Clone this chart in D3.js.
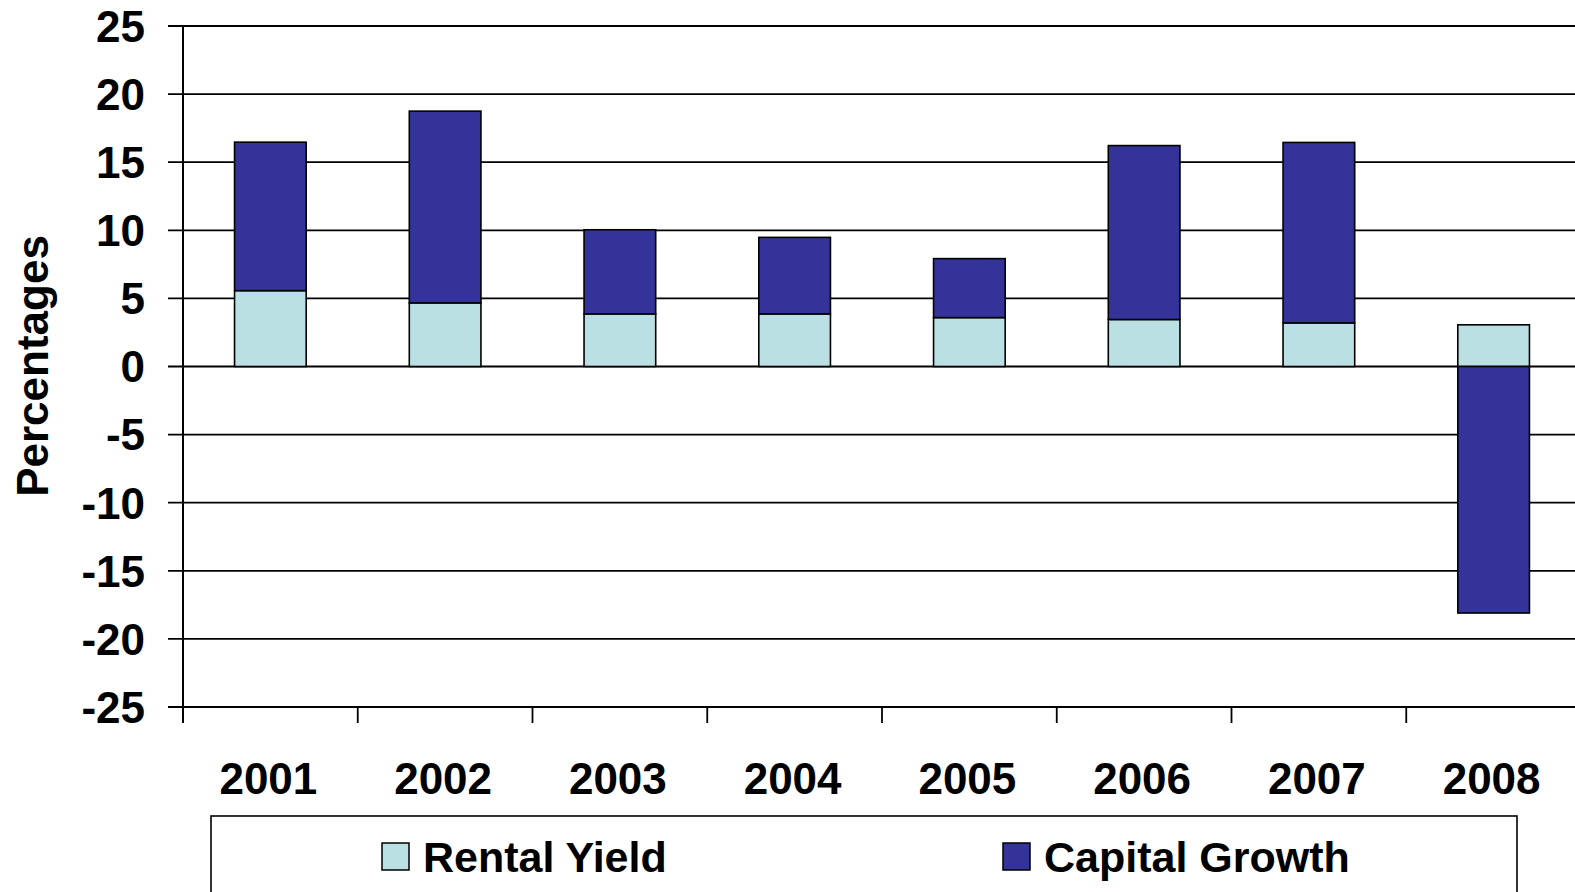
<!DOCTYPE html>
<html>
<head>
<meta charset="utf-8">
<script src="https://cdn.jsdelivr.net/npm/d3@7"></script>
<style>
  html, body { margin: 0; padding: 0; background: #fff; overflow: hidden; }
  svg { display: block; font-family: "Liberation Sans", Arial, sans-serif; font-weight: bold; }
</style>
</head>
<body>
<svg width="1575" height="892"></svg>
<script>
// Datos
const years = ["2001", "2002", "2003", "2004", "2005", "2006", "2007", "2008"];
const rentalYield = [5.57, 4.67, 3.86, 3.86, 3.59, 3.45, 3.2, 3.06];
const capitalGrowth = [10.9, 14.08, 6.18, 5.62, 4.33, 12.77, 13.25, -18.1];
const yTicks = [-25, -20, -15, -10, -5, 0, 5, 10, 15, 20, 25];
const seriesNames = ["Rental Yield", "Capital Growth"];
const seriesColors = ["#bae0e3", "#333399"];

const svg = d3.select("svg");
const margin = { top: 26, bottom: 185, left: 183 };
const width = 1398; // el área del gráfico se sale un poco por la derecha
const height = +svg.attr("height") - margin.top - margin.bottom;
const g = svg.append("g").attr("transform", `translate(${margin.left},${margin.top})`);

const rows = years.map((yr, i) => ({ year: yr, rental: rentalYield[i], capital: capitalGrowth[i] }));

// Escalas
const x = d3.scaleBand()
  .domain(years)
  .range([0, width])
  .paddingInner(0.59)
  .paddingOuter(0.295);

const y = d3.scaleLinear()
  .domain([-25, 25])
  .range([height, 0]);

// Líneas de cuadrícula + marcas del eje Y
g.append("g")
  .selectAll("line")
  .data(yTicks)
  .enter()
  .append("line")
  .attr("x1", -15)
  .attr("x2", width)
  .attr("y1", d => y(d))
  .attr("y2", d => y(d))
  .attr("stroke", "#000")
  .attr("stroke-width", 1.8);

// Etiquetas del eje Y
g.append("g")
  .selectAll("text")
  .data(yTicks)
  .enter()
  .append("text")
  .attr("x", -38)
  .attr("y", d => y(d))
  .attr("dy", "0.36em")
  .attr("text-anchor", "end")
  .attr("font-size", 44)
  .text(d => d);

// Eje Y (línea vertical)
g.append("line")
  .attr("x1", 0).attr("x2", 0)
  .attr("y1", 0).attr("y2", height + 16)
  .attr("stroke", "#000")
  .attr("stroke-width", 2);

// Marcas del eje X entre categorías
const step = x.step();
g.append("g")
  .selectAll("line")
  .data(d3.range(years.length + 1))
  .enter()
  .append("line")
  .attr("x1", i => i * step)
  .attr("x2", i => i * step)
  .attr("y1", height)
  .attr("y2", height + 16)
  .attr("stroke", "#000")
  .attr("stroke-width", 1.8);

// Barras apiladas (divergentes)
const stack = d3.stack()
  .keys(["rental", "capital"])
  .offset(d3.stackOffsetDiverging);
const series = stack(rows);

g.selectAll(".serie")
  .data(series)
  .enter()
  .append("g")
  .attr("class", "serie")
  .attr("fill", (d, i) => seriesColors[i])
  .selectAll("rect")
  .data(d => d)
  .enter()
  .append("rect")
  .attr("x", d => x(d.data.year))
  .attr("width", x.bandwidth())
  .attr("y", d => y(Math.max(d[0], d[1])))
  .attr("height", d => Math.abs(y(d[0]) - y(d[1])))
  .attr("stroke", "#000")
  .attr("stroke-width", 1.6);

// Etiquetas del eje X
g.append("g")
  .selectAll("text")
  .data(years)
  .enter()
  .append("text")
  .attr("x", d => x(d) + x.bandwidth() / 2 - 2)
  .attr("y", height + 87)
  .attr("text-anchor", "middle")
  .attr("font-size", 44)
  .text(d => d);

// Título del eje Y
svg.append("text")
  .attr("transform", "translate(48,366) rotate(-90)")
  .attr("text-anchor", "middle")
  .attr("font-size", 44)
  .text("Percentages");

// Leyenda
const legend = svg.append("g");
legend.append("rect")
  .attr("x", 211)
  .attr("y", 816)
  .attr("width", 1306)
  .attr("height", 120)
  .attr("fill", "#fff")
  .attr("stroke", "#000")
  .attr("stroke-width", 1.6);

const legendX = [382, 1003];
const items = legend.selectAll(".item")
  .data(seriesNames)
  .enter()
  .append("g")
  .attr("class", "item")
  .attr("transform", (d, i) => `translate(${legendX[i]},843)`);

items.append("rect")
  .attr("width", 27)
  .attr("height", 27)
  .attr("fill", (d, i) => seriesColors[i])
  .attr("stroke", "#000")
  .attr("stroke-width", 1.5);

items.append("text")
  .attr("x", 41)
  .attr("y", 29)
  .attr("font-size", 43)
  .text(d => d);
</script>
</body>
</html>
